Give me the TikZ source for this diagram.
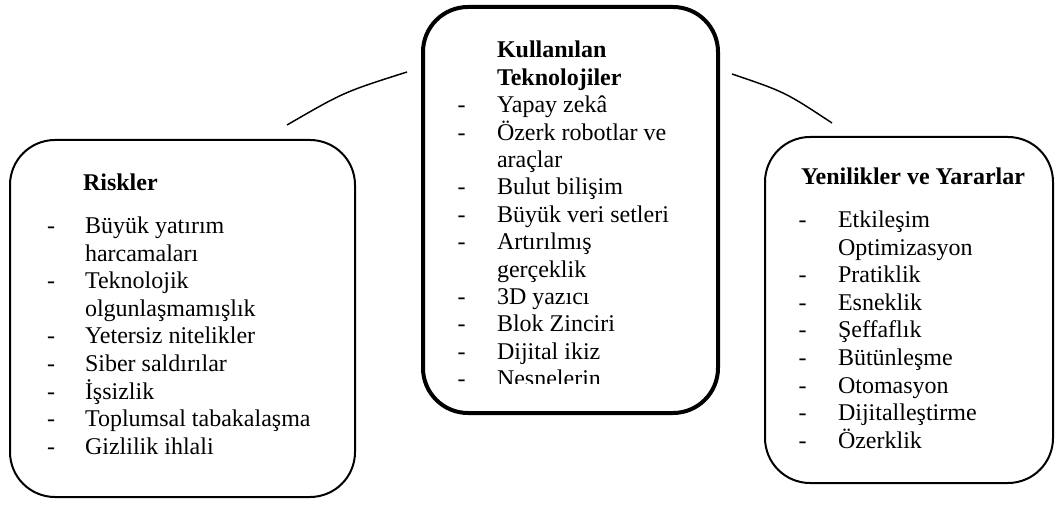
\documentclass[tikz,border=0pt]{standalone}
\usepackage{fontspec}
\setmainfont{Liberation Serif}
\begin{document}
\begin{tikzpicture}[x=0.75pt,y=-0.75pt,
  box/.style={draw, rounded corners=33.75pt, line width=1.5pt, inner sep=0pt, outer sep=0pt},
  boxthick/.style={box, line width=3pt},
  txt/.style={anchor=base west, inner sep=0pt, outer sep=0pt, font=\fontsize{18pt}{21pt}\selectfont},
  ttl/.style={txt, font=\fontsize{18pt}{21pt}\selectfont\bfseries},
  dashnode/.style={anchor=base, inner sep=0pt, outer sep=0pt, font=\fontsize{18pt}{21pt}\selectfont},
  link/.style={line width=1.1pt}]
\useasboundingbox (0,0) rectangle (1056,509);

% boxes
\node[box, minimum width=258.75pt, minimum height=267.75pt] (risk) at (182.5,318.5) {};
\node[boxthick, minimum width=221.25pt, minimum height=304.5pt] (tech) at (570.5,210) {};
\node[box, minimum width=216pt, minimum height=259.5pt] (yen) at (909,310) {};

% connectors
\coordinate (l1) at (287,125);
\coordinate (l2) at (407,72);
\coordinate (r1) at (732,74);
\coordinate (r2) at (832,123);
\draw[link] (l1) .. controls (344,92) .. (l2);
\draw[link] (r1) .. controls (785,92) .. (r2);

% Riskler
\node[ttl] (rtitle) at (83,190.5) {Riskler};
\foreach \t/\d [count=\i from 0] in {Büyük yatırım/1, harcamaları/0, Teknolojik/1, olgunlaşmamışlık/0, Yetersiz nitelikler/1, Siber saldırılar/1, İşsizlik/1, Toplumsal tabakalaşma/1, Gizlilik ihlali/1} {
  \node[txt] (L\i) at (85,233.5+27.6*\i) {\t};
  \ifnum\d=1 \node[dashnode] (Ld\i) at (51,233.5+27.6*\i) {-}; \fi
}

% Kullanilan Teknolojiler
\node[ttl] (ttitle1) at (497,58) {Kullanılan};
\node[ttl] (ttitle2) at (497,85.4) {Teknolojiler};
\begin{scope}
\clip (420,0) rectangle (720,383.5);
\foreach \t/\d [count=\i from 0] in {Yapay zekâ/1, Özerk robotlar ve/1, araçlar/0, Bulut bilişim/1, Büyük veri setleri/1, Artırılmış/1, gerçeklik/0, 3D yazıcı/1, Blok Zinciri/1, Dijital ikiz/1, Nesnelerin/1} {
  \node[txt] (C\i) at (497,112.8+27.4*\i) {\t};
  \ifnum\d=1 \node[dashnode] (Cd\i) at (461.5,112.8+27.4*\i) {-}; \fi
}
\end{scope}

% Yenilikler ve Yararlar
\node[ttl] (ytitle) at (801,185) {Yenilikler ve Yararlar};
\foreach \t/\d [count=\i from 0] in {Etkileşim/1, Optimizasyon/0, Pratiklik/1, Esneklik/1, Şeffaflık/1, Bütünleşme/1, Otomasyon/1, Dijitalleştirme/1, Özerklik/1} {
  \node[txt] (R\i) at (838,228+27.5*\i) {\t};
  \ifnum\d=1 \node[dashnode] (Rd\i) at (802.5,228+27.5*\i) {-}; \fi
}
\end{tikzpicture}
\end{document}
